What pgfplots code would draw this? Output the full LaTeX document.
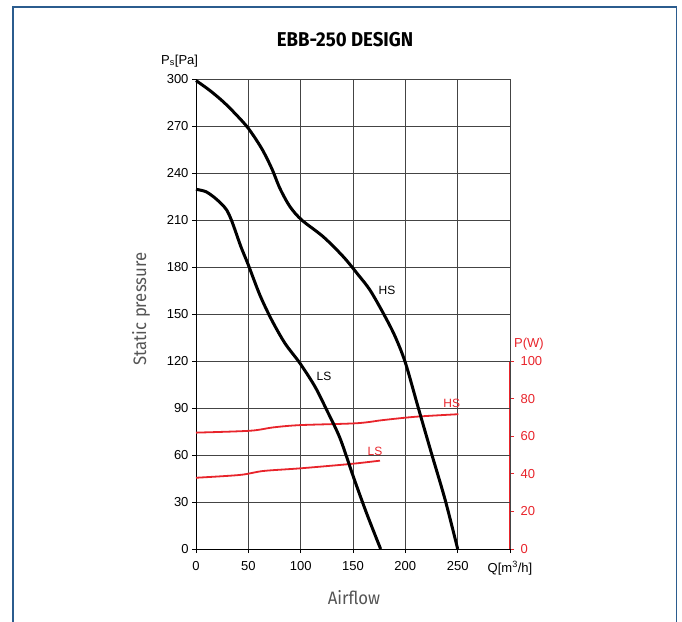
\documentclass[border=0pt]{standalone}
\usepackage{fontspec}
\setmainfont{Liberation Sans}
\newfontfamily\titlefont[FakeStretch=0.93]{Fira Sans}
\newfontfamily\labelfont[FakeStretch=0.93]{Fira Sans}
\usepackage{pgfplots}
\pgfplotsset{compat=1.18}
\definecolor{framecol}{HTML}{2B5C8E}
\definecolor{pred}{HTML}{E8242B}
\definecolor{gridcol}{HTML}{444444}
\definecolor{labgray}{HTML}{555555}
\begin{document}
\begin{tikzpicture}
\useasboundingbox (0,0) rectangle (682bp,-622bp);
\draw[framecol, line width=1.5bp] (13bp,-622bp) -- (13bp,-7bp) -- (676.5bp,-7bp) -- (676.5bp,-622bp);

% power axis (right, red)
\begin{axis}[
  scale only axis, width=314bp, height=470bp,
  at={(196bp,-549bp)}, anchor=south west,
  xmin=0, xmax=300, ymin=0, ymax=250,
  hide x axis,
  axis y line*=right,
  axis line style={draw=none},
  ytick={0,20,...,100},
  tick align=outside, major tick length=4bp,
  tick style={pred, line width=1bp},
  yticklabel style={pred, xshift=3bp, font=\fontsize{13bp}{15bp}\selectfont},
  /pgf/number format/assume math mode=true,
]
\draw[pred, line width=2bp] (axis cs:300,0) -- (axis cs:300,100);
\end{axis}

% pressure axis
\begin{axis}[
  scale only axis, width=314bp, height=470bp,
  at={(196bp,-549bp)}, anchor=south west,
  xmin=0, xmax=300, ymin=0, ymax=300,
  axis x line*=bottom, axis y line*=left,
  axis line style={-, black, line width=1bp},
  xtick={0,50,...,300}, ytick={0,30,...,300},
  xticklabels={0,50,100,150,200,250,{Q[m\textsuperscript{3}/h]}},
  grid=major, grid style={gridcol, line width=0.9bp},
  tick align=outside, major tick length=4bp,
  tick style={black, line width=1bp},
  ticklabel style={font=\fontsize{13bp}{15bp}\selectfont},
  xticklabel style={yshift=-5bp},
  /pgf/number format/assume math mode=true,
  clip=false,
]
% power curves in W, shown on the right scale (100 W = 120 Pa)
\addplot[pred, line width=1.8bp, smooth, y filter/.expression={1.2*y}] coordinates {
  (0,61.9) (51.6,62.9) (73.9,64.7) (99.4,65.9) (153.5,66.9) (179,68.6) (210.9,70.4) (250.6,71.7)};
\addplot[pred, line width=1.8bp, smooth, y filter/.expression={1.2*y}] coordinates {
  (0,37.9) (42,39.4) (64.3,41.5) (99.4,42.9) (147,45.2) (175.8,47)};
% pressure curves
\addplot[black, line width=3bp, smooth, tension=0.5] coordinates {
  (0,299) (13,292.8) (26,285.5) (38,277.5) (50,268.5) (62.7,255.7) (72.3,243) (80.3,230) (89.8,218.5)
  (101,210) (121.6,199.3) (140.7,186.6) (155,175) (166.2,165.3) (179,150.4)
  (190,136) (200,119) (212,91) (225,61) (238,31.5) (250,0)};
\addplot[black, line width=3bp, smooth, tension=0.5] coordinates {
  (0,229.6) (9,228.2) (16.6,224.9) (24,220.5) (29.3,216.4) (33.5,210.5) (37.3,203.6) (43,192.8) (50,181.3) (61.1,162) (72.3,146.2)
  (85,131.3) (99.4,118.5) (113.7,103.6) (124.9,88.7) (137.6,70.7) (150.3,46.2)
  (163,22.8) (176.4,0)};
\node[font=\fontsize{12bp}{14bp}\selectfont] at (axis cs:182.5,165.3) {HS};
\node[font=\fontsize{12bp}{14bp}\selectfont] at (axis cs:122.3,109.9) {LS};
\node[pred, font=\fontsize{12bp}{14bp}\selectfont] at (axis cs:244.4,93) {HS};
\node[pred, font=\fontsize{12bp}{14bp}\selectfont] at (axis cs:171.1,62.5) {LS};
\end{axis}

\node[anchor=base, font=\titlefont\bfseries\fontsize{20bp}{22bp}\selectfont] at (345bp,-46bp) {EBB-250 DESIGN};
\node[anchor=base west, inner sep=0pt, font=\fontsize{13bp}{15bp}\selectfont] at (161bp,-64bp) {P\textsubscript{s}[Pa]};
\node[anchor=base west, inner sep=0pt, pred, font=\fontsize{13bp}{15bp}\selectfont] at (514bp,-347bp) {P(W)};
\node[rotate=90, labgray, font=\labelfont\fontsize{18bp}{20bp}\selectfont] at (141bp,-309bp) {Static pressure};
\node[labgray, font=\labelfont\fontsize{18bp}{20bp}\selectfont] at (354bp,-598bp) {Airflow};
\end{tikzpicture}
\end{document}
